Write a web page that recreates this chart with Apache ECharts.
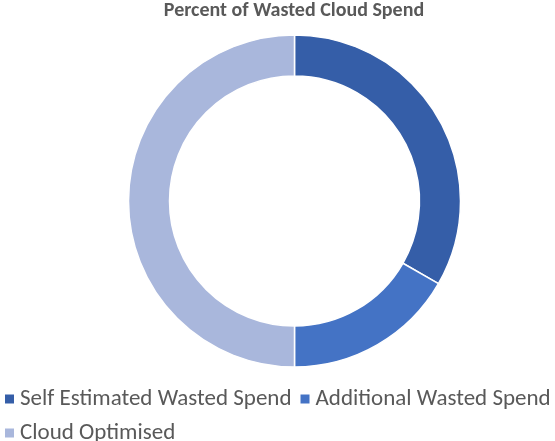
<!DOCTYPE html>
<html>
<head>
<meta charset="utf-8">
<script src="https://cdn.jsdelivr.net/npm/echarts@6/dist/echarts.min.js"></script>
<style>
html,body{margin:0;padding:0;background:#fff;}
#chart{width:555px;height:441px;}
</style>
</head>
<body>
<div id="chart"></div>
<script>
const titleText = 'Percent of Wasted Cloud Spend';
const categories = ['Self Estimated Wasted Spend', 'Additional Wasted Spend', 'Cloud Optimised'];
const values = [33.3, 16.7, 50];
const colors = ['#355EA8', '#4473C5', '#A9B7DC'];

const chart = echarts.init(document.getElementById('chart'), null, {renderer: 'canvas'});
const fontFamily = 'Carlito, Lato, "Open Sans", sans-serif';
const legendText = {fontFamily: fontFamily, fontSize: 23, lineHeight: 26, color: '#595959'};
chart.setOption({
  animation: false,
  title: {
    text: titleText,
    left: 294,
    top: 1,
    padding: 0,
    textAlign: 'center',
    textStyle: {fontFamily: fontFamily, fontSize: 20, fontWeight: 'bold', color: '#595959'}
  },
  legend: [
    {
      data: categories.slice(0, 2),
      left: 3,
      top: 386,
      padding: 0,
      orient: 'horizontal',
      icon: 'rect',
      itemWidth: 11,
      itemHeight: 11,
      itemGap: 7,
      selectedMode: false,
      textStyle: legendText
    },
    {
      data: categories.slice(2),
      left: 3,
      top: 420,
      padding: 0,
      orient: 'horizontal',
      icon: 'rect',
      itemWidth: 11,
      itemHeight: 11,
      itemGap: 7,
      selectedMode: false,
      textStyle: legendText
    }
  ],
  series: [{
    type: 'pie',
    center: [294.5, 201],
    radius: [125, 166],
    startAngle: 90,
    clockwise: true,
    silent: true,
    label: {show: false},
    labelLine: {show: false},
    itemStyle: {borderColor: '#ffffff', borderWidth: 1.5},
    data: categories.map((c, i) => ({name: c, value: values[i], itemStyle: {color: colors[i]}}))
  }]
});
</script>
</body>
</html>
